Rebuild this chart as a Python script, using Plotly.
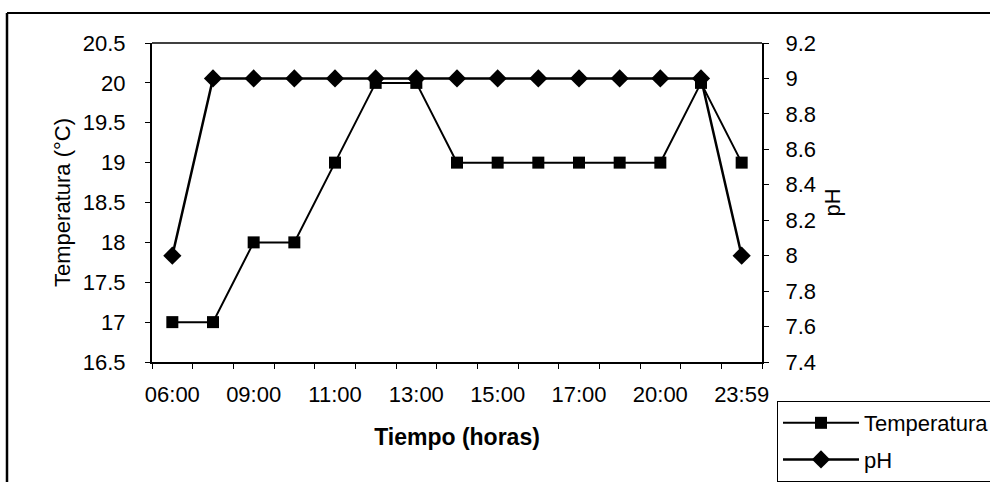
import plotly.graph_objects as go

# categories (only every other label is printed on the axis)
horas = ["06:00", "07:30", "09:00", "10:00", "11:00", "12:00", "13:00", "14:00",
         "15:00", "16:00", "17:00", "18:00", "20:00", "22:00", "23:59"]
etiquetas = [h if i % 2 == 0 else "" for i, h in enumerate(horas)]

temperatura = [17, 17, 18, 18, 19, 20, 20, 19, 19, 19, 19, 19, 19, 20, 19]
ph = [8, 9, 9, 9, 9, 9, 9, 9, 9, 9, 9, 9, 9, 9, 8]

temp_ticks = [16.5, 17, 17.5, 18, 18.5, 19, 19.5, 20, 20.5]
ph_ticks = [7.4, 7.6, 7.8, 8, 8.2, 8.4, 8.6, 8.8, 9, 9.2]

FONT = "Liberation Sans, Arial, sans-serif"

fig = go.Figure()
fig.add_trace(go.Scatter(
    x=horas, y=temperatura, name="Temperatura", mode="lines+markers",
    line=dict(color="black", width=2),
    marker=dict(symbol="square", size=12, color="black"),
    legendgroup="t",
))
fig.add_trace(go.Scatter(
    x=horas, y=ph, name="pH", mode="lines+markers", yaxis="y2",
    line=dict(color="black", width=2.5),
    marker=dict(symbol="diamond", size=14, color="black"),
    legendgroup="p",
))

fig.update_layout(
    width=990, height=482,
    margin=dict(l=152, r=228, t=43, b=120, autoexpand=False),
    paper_bgcolor="white", plot_bgcolor="white",
    font=dict(family=FONT, size=22, color="black"),
    showlegend=True,
    legend=dict(
        x=1.0246, y=-0.1223, xanchor="left", yanchor="top",
        bordercolor="black", borderwidth=1, bgcolor="white",
        font=dict(size=22), itemwidth=76, tracegroupgap=5,
    ),
    xaxis=dict(
        type="category", categoryorder="array", categoryarray=horas,
        range=[-0.5, len(horas) - 0.5],
        tickmode="array", tickvals=horas, ticktext=etiquetas, tickangle=0,
        tickson="boundaries", ticks="outside", ticklen=5, tickcolor="black",
        showline=True, linecolor="black", linewidth=2, mirror=False,
        showgrid=False, zeroline=False, ticklabelstandoff=12,
        title=dict(text="<b>Tiempo (horas)</b>", standoff=22, font=dict(size=23)),
    ),
    yaxis=dict(
        range=[16.5, 20.5], tickmode="array", tickvals=temp_ticks,
        ticktext=[f"{v:g}" for v in temp_ticks],
        ticks="outside", ticklen=5, tickcolor="black",
        showline=True, linecolor="black", linewidth=2,
        showgrid=False, zeroline=False, ticklabelstandoff=15,
        title=dict(text="Temperatura (°C)", standoff=6, font=dict(size=22)),
    ),
    yaxis2=dict(
        range=[7.4, 9.2], overlaying="y", side="right",
        tickmode="array", tickvals=ph_ticks,
        ticktext=[f"{v:g}" for v in ph_ticks],
        ticks="outside", ticklen=5, tickcolor="black",
        showline=True, linecolor="black", linewidth=2,
        showgrid=False, zeroline=False, ticklabelstandoff=12,
        title=dict(text="pH", standoff=10, font=dict(size=22)),
    ),
    shapes=[
        # top border of the chart frame
        dict(type="line", xref="paper", yref="paper",
             x0=-0.2377, x1=1.4, y0=1.094, y1=1.094,
             line=dict(color="black", width=2)),
        # top border of the plot area
        dict(type="line", xref="paper", yref="paper",
             x0=0, x1=1, y0=1, y1=1, line=dict(color="black", width=1.5)),
        # left border of the chart frame
        dict(type="line", xref="paper", yref="paper",
             x0=-0.2377, x1=-0.2377, y0=1.094, y1=-0.4,
             line=dict(color="black", width=2.5)),
    ],
)

fig.write_html("out.html", config={"displayModeBar": False},
               post_script="document.body.style.margin='0';")
